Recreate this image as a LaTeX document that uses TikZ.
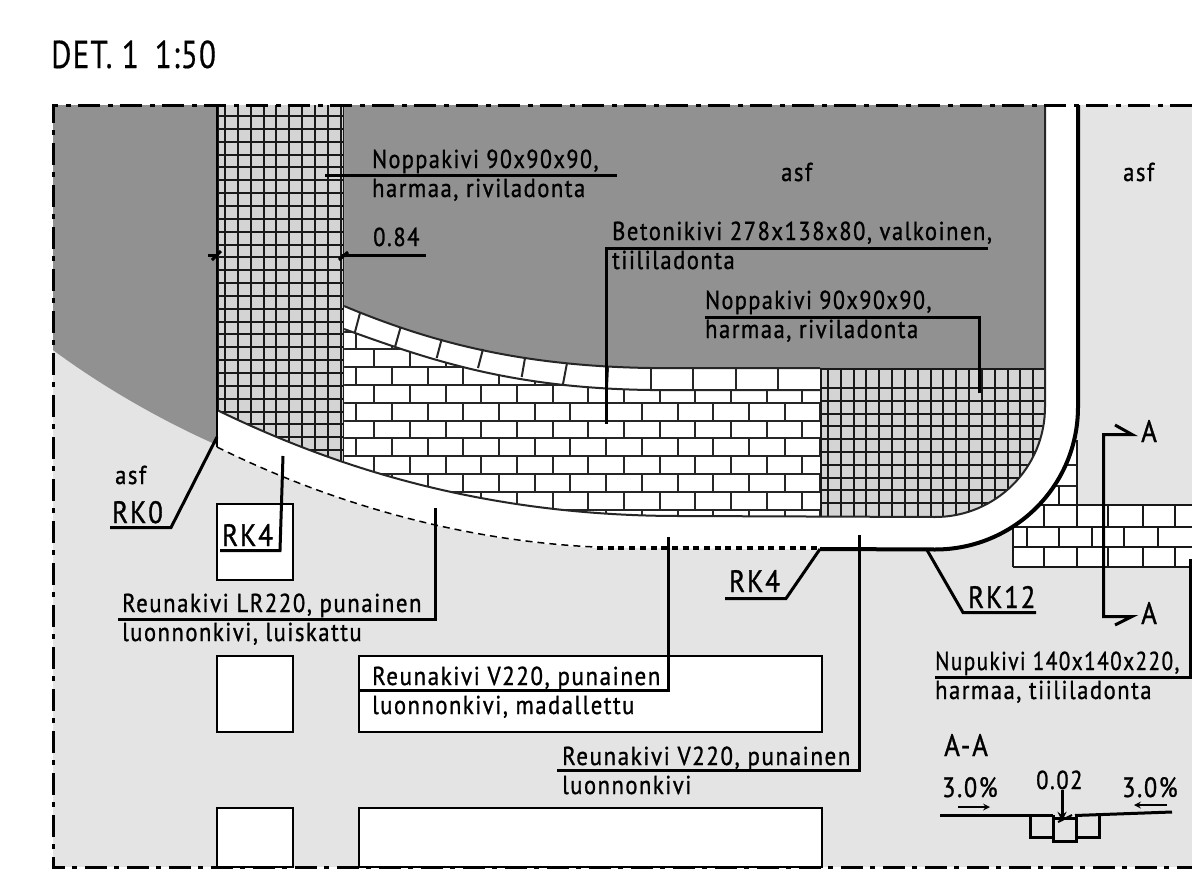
\documentclass[tikz,border=0pt]{standalone}
\usepackage{fontspec}
\newfontfamily\cadfont[LetterSpace=6, FakeStretch=0.87, FakeBold=1]{PT Sans}
\newfontfamily\titlefont[LetterSpace=3, FakeStretch=0.8, FakeBold=0.4]{PT Sans}
\tikzstyle{lbl} = [anchor=base west, inner sep=0pt, font=\cadfont\fontsize{26}{26}\selectfont]
\tikzstyle{biglbl} = [anchor=base west, inner sep=0pt, font=\cadfont\fontsize{31}{31}\selectfont]
\tikzstyle{leader} = [line width=3bp, black]
\tikzstyle{joint} = [line width=2bp, black!85]
\tikzstyle{gridline} = [line width=2.5bp, black!90]
\tikzstyle{plate} = [draw=black, line width=1.5bp, fill=white]
\definecolor{asfdark}{HTML}{919191}
\definecolor{asflight}{HTML}{E4E4E4}
\definecolor{stonegrey}{HTML}{D4D4D4}
\begin{document}
\begin{tikzpicture}[x=1bp, y=-1bp]

    \useasboundingbox (0,0) rectangle (1192,877);

    \fill[asflight] (53,105) rectangle (1192,867);
    \fill[asfdark] (53,105) -- (217,105) -- (217,445) .. controls (160,420) and (100,385) .. (53,350) -- cycle;
    \fill[asfdark] (344,105) -- (1045,105) -- (1045,368) -- (650,368) .. controls (520,366) and (430,342) .. (344,306) -- cycle;

    \draw[plate] (217,504) rectangle (293,580);
    \draw[plate] (217,656) rectangle (293,732);
    \draw[plate] (217,808) rectangle (293,867);
    \draw[plate] (359,656) rectangle (822,732);
    \draw[plate] (359,808) rectangle (822,867);

    \fill[white] (344,306) .. controls (430,342) and (520,366) .. (650,368) -- (820,368) -- (820,525) -- (600,525) -- (450,505) -- (344,470) -- cycle;
    \begin{scope}
        \clip (344,329) .. controls (430,360) and (510,388) .. (650,390) -- (820,390) -- (820,525) -- (600,525) -- (450,505) -- (344,470) -- cycle;
        \foreach \row [evaluate=\row as \rowy using round(331.5+17.8*\row)] in {0,...,10} {
            \draw[joint] (344,\rowy) -- (820,\rowy);
        }
        \foreach \row [evaluate=\row as \rowa using round(331.5+17.8*\row), evaluate=\row as \rowb using round(349.3+17.8*\row), evaluate=\row as \rowc using round(367.1+17.8*\row)] in {0,2,...,10} {
            \foreach \col [evaluate=\col as \cola using round(356.3+35.7*\col), evaluate=\col as \colb using round(374.1+35.7*\col)] in {0,...,13} {
                \draw[joint] (\cola,\rowa) -- (\cola,\rowb);
                \draw[joint] (\colb,\rowb) -- (\colb,\rowc);
            }
        }
    \end{scope}
    \draw[joint] (344,306) .. controls (430,342) and (520,366) .. (650,368) -- (820,368);
    \draw[joint] (344,329) .. controls (430,360) and (510,388) .. (650,390) -- (820,390);
    \foreach \xa/\ya/\xb/\yb in {360/313/355/332, 400.7/327/395/347, 441.7/339/436.7/358, 483/349/478/368, 525/358/521.7/377, 567/363/563/384, 608/367/607/387, 651/368/651/390, 693/368/693/390, 736/368/736/390, 778/368/778/390} {
        \draw[joint] (\xa,\ya) -- (\xb,\yb);
    }

    \fill[stonegrey] (217,105) -- (344,105) -- (344,470) -- (217,430) -- cycle;
    \begin{scope}
        \clip (217,105) -- (344,105) -- (344,470) -- (217,430) -- cycle;
        \foreach \row [evaluate=\row as \rowy using round(116+12.85*\row)] in {0,...,27} {
            \draw[gridline] (217,\rowy) -- (344,\rowy);
        }
        \foreach \col [evaluate=\col as \colx using round(225+12.87*\col)] in {0,...,8} {
            \draw[gridline] (\colx,105) -- (\colx,470);
        }
        \draw[gridline] (218,105) -- (218,470);
        \draw[gridline] (341,105) -- (341,470);
        \draw[gridline] (344,105) -- (344,470);
    \end{scope}

    \fill[stonegrey] (820,368) -- (1045,368) -- (1045,407) .. controls (1045,467.75) and (995.75,517) .. (935,517) -- (820,517) -- cycle;
    \begin{scope}
        \clip (820,368) -- (1045,368) -- (1045,407) .. controls (1045,467.75) and (995.75,517) .. (935,517) -- (820,517) -- cycle;
        \foreach \row [evaluate=\row as \rowy using round(388+12.8*\row)] in {0,...,9} {
            \draw[gridline] (820,\rowy) -- (1045,\rowy);
        }
        \foreach \col [evaluate=\col as \colx using round(828+12.83*\col)] in {0,...,16} {
            \draw[gridline] (\colx,368) -- (\colx,517);
        }
        \draw[gridline] (821,368) -- (821,517);
        \draw[gridline] (820,369) -- (1045,369);
    \end{scope}

    \fill[white] (1000,505) rectangle (1192,526);
    \fill[white] (1013,526) rectangle (1192,567);
    \fill[white] (1040,440) rectangle (1077,505);
    \foreach \yy in {465,486} {
        \draw[joint] (1040,\yy) -- (1077,\yy);
    }
    \draw[gridline] (1000,505) -- (1192,505);
    \draw[gridline] (1013,527) -- (1192,527);
    \draw[gridline] (1013,547) -- (1192,547);
    \draw[gridline] (1013,567) -- (1192,567);
    \draw[gridline] (1013,527) -- (1013,567);
    \draw[gridline] (1077,440) -- (1077,505);
    \draw[gridline] (1059,486) -- (1059,505);
    \foreach \xx in {1044,1077,1108,1143,1175} {
        \draw[gridline] (\xx,505) -- (\xx,527);
        \draw[gridline] (\xx,547) -- (\xx,567);
    }
    \foreach \xx in {1027,1059,1092,1124,1158} {
        \draw[gridline] (\xx,527) -- (\xx,547);
    }

    \fill[white] (217,410) .. controls (330,465) and (480,516) .. (680,516) -- (935,517) .. controls (995.75,517) and (1045,467.75) .. (1045,407) -- (1045,105) -- (1078,105) -- (1078,407) .. controls (1078,486) and (1014,550) .. (935,550) -- (595,548) .. controls (450,540) and (320,498) .. (217,447) -- cycle;
    \draw[joint] (217,410) .. controls (330,465) and (480,516) .. (680,516) -- (935,517) .. controls (995.75,517) and (1045,467.75) .. (1045,407) -- (1045,105);
    \draw[line width=1.5bp, dash pattern=on 7bp off 5bp] (217,447) .. controls (320,498) and (450,540) .. (595,547);
    \draw[line width=4bp, dash pattern=on 6bp off 4.7bp] (597,548) -- (820,548);
    \draw[line width=4bp] (820,549) -- (935,549.5) .. controls (1014,549.5) and (1078,486) .. (1078,407) -- (1078,105);
    \draw[line width=1.5bp] (217,105) -- (217,447);

    \draw[line width=3bp, dash pattern=on 22bp off 7bp on 5bp off 8bp] (1192,105.5) -- (53.5,105.5) -- (53.5,867.5) -- (1192,867.5);

    \node (title) [lbl, font=\titlefont\fontsize{39}{39}\selectfont] at (51,68) {DET. 1\hspace{16bp}1:50};

    \node (asfa) [lbl] at (781,181) {asf};
    \node (asfb) [lbl] at (1123,181) {asf};
    \node (asfc) [lbl] at (115,484) {asf};

    \node (nopa) [lbl] at (372,168) {\scalebox{0.98}[1]{Noppakivi 90x90x90,}};
    \node (nopb) [lbl] at (372,197) {harmaa, riviladonta};
    \coordinate (nopatip) at (325,175.5);
    \coordinate (nopaend) at (617,175.5);
    \draw[leader] (nopatip) -- (nopaend);

    \node (width) [lbl] at (373,246) {0.84};
    \coordinate (widtha) at (341,255.5);
    \coordinate (widthb) at (426,255.5);
    \coordinate (widthc) at (208,255.5);
    \coordinate (widthd) at (218,255.5);
    \draw[leader] (widtha) -- (widthb);
    \draw[leader] (widthc) -- (widthd);
    \draw[leader] (212,260) -- (221,251);
    \draw[leader] (339,260) -- (348,252);

    \node (beta) [lbl] at (612,240) {Betonikivi 278x138x80, valkoinen,};
    \node (betb) [lbl] at (612,269) {tiililadonta};
    \coordinate (bettip) at (606.5,424);
    \coordinate (betcor) at (606.5,248.5);
    \coordinate (betend) at (988,248.5);
    \draw[leader] (bettip) -- (betcor) -- (betend);

    \node (nopc) [lbl] at (705,309) {\scalebox{0.98}[1]{Noppakivi 90x90x90,}};
    \node (nopd) [lbl] at (705,338) {harmaa, riviladonta};
    \coordinate (noptip) at (979.5,393);
    \coordinate (nopcor) at (979.5,317.5);
    \coordinate (nopend) at (705,317.5);
    \draw[leader] (noptip) -- (nopcor) -- (nopend);

    \node (rkzero) [biglbl] at (112,523) {RK0};
    \coordinate (rkzerotip) at (217,437);
    \coordinate (rkzerocor) at (171,527.5);
    \coordinate (rkzeroend) at (110,527.5);
    \draw[leader] (rkzerotip) -- (rkzerocor) -- (rkzeroend);

    \node (rkfa) [biglbl] at (222,546) {RK4};
    \coordinate (rkfatip) at (283,456);
    \coordinate (rkfacor) at (280,550.5);
    \coordinate (rkfaend) at (220,550.5);
    \draw[leader] (rkfatip) -- (rkfacor) -- (rkfaend);

    \node (lra) [lbl] at (122,612) {\scalebox{1.01}[1]{Reunakivi LR220, punainen}};
    \node (lrb) [lbl] at (122,641) {luonnonkivi, luiskattu};
    \coordinate (lrtip) at (435.5,508);
    \coordinate (lrcor) at (435.5,619.5);
    \coordinate (lrend) at (118,619.5);
    \draw[leader] (lrtip) -- (lrcor) -- (lrend);

    \node (vma) [lbl] at (372,685) {\scalebox{1.02}[1]{Reunakivi V220, punainen}};
    \node (vmb) [lbl] at (372,714) {luonnonkivi, madallettu};
    \coordinate (vmtip) at (668.5,537);
    \coordinate (vmcor) at (668.5,690.5);
    \coordinate (vmend) at (359,690.5);
    \draw[leader] (vmtip) -- (vmcor) -- (vmend);

    \node (vna) [lbl] at (562,765) {\scalebox{1.02}[1]{Reunakivi V220, punainen}};
    \node (vnb) [lbl] at (562,794) {luonnonkivi};
    \coordinate (vntip) at (859.5,535);
    \coordinate (vncor) at (859.5,770.5);
    \coordinate (vnend) at (557,770.5);
    \draw[leader] (vntip) -- (vncor) -- (vnend);

    \node (rkfb) [biglbl] at (729,592) {RK4};
    \coordinate (rkfbtip) at (820,549);
    \coordinate (rkfbcor) at (786,598.5);
    \coordinate (rkfbend) at (725,598.5);
    \draw[leader] (rkfbtip) -- (rkfbcor) -- (rkfbend);

    \node (rkt) [biglbl] at (968,608) {RK12};
    \coordinate (rkttip) at (927,550);
    \coordinate (rktcor) at (963,612.5);
    \coordinate (rktend) at (1036,612.5);
    \draw[leader] (rkttip) -- (rktcor) -- (rktend);

    \node (nupa) [lbl] at (935,670) {\scalebox{0.94}[1]{Nupukivi 140x140x220,}};
    \node (nupb) [lbl] at (935,699) {harmaa, tiililadonta};
    \coordinate (nuptip) at (1190.5,559);
    \coordinate (nupcor) at (1190.5,677.5);
    \coordinate (nupend) at (935,677.5);
    \draw[leader] (nuptip) -- (nupcor) -- (nupend);

    \node (seca) [biglbl] at (1141,442) {A};
    \node (secb) [biglbl] at (1141,624) {A};
    \coordinate (cutae) at (1132,434.5);
    \coordinate (cutac) at (1103.5,434.5);
    \coordinate (cutbc) at (1103.5,616.5);
    \coordinate (cutbe) at (1132,616.5);
    \draw[leader] (1115,425) -- (cutae) -- (cutac) -- (cutbc) -- (cutbe) -- (1115,625);

    \node (secname) [biglbl] at (944,756) {A-A};
    \node (slopea) [biglbl, font=\cadfont\fontsize{28}{28}\selectfont] at (942,797) {3.0\%};
    \node (slopeb) [biglbl, font=\cadfont\fontsize{28}{28}\selectfont] at (1122,797) {3.0\%};
    \node (joint) [lbl] at (1036,789) {0.02};
    \draw[line width=2bp, -stealth] (958,807) -- (990,807);
    \draw[line width=2bp, -stealth] (1167,805) -- (1134,805);
    \draw[leader, -stealth] (1062,790) -- (1062,821);
    \draw[line width=2bp] (1058,822) -- (1072,815);

    \draw[leader] (940,815.5) -- (1053,815.5);
    \draw[leader] (1075,815.5) -- (1172,812);
    \draw[leader] (1030.5,815) -- (1030.5,837) -- (1053,837);
    \draw[leader] (1053,815) -- (1053,841) -- (1076,841) -- (1076,815);
    \draw[leader] (1053,818) -- (1076,818);
    \draw[leader] (1076,837) -- (1099,837) -- (1099,815);

\end{tikzpicture}
\end{document}
